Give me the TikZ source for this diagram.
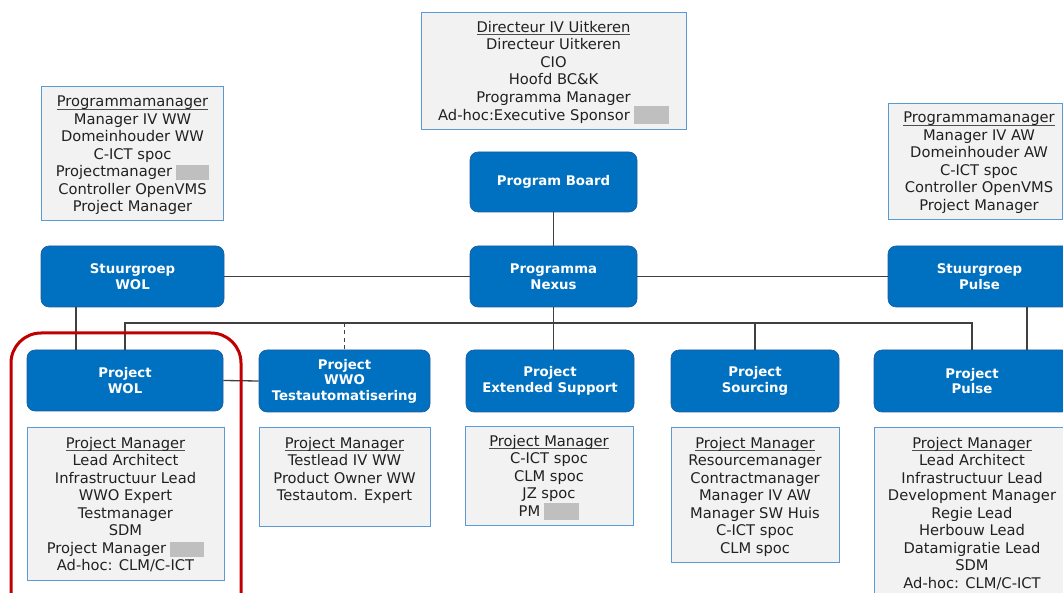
\documentclass[tikz,border=0pt]{standalone}
\usepackage{fontspec}
\setmainfont{DejaVu Sans}
\usetikzlibrary{calc}
\definecolor{mblue}{RGB}{0,112,192}
\definecolor{mblueedge}{RGB}{30,90,160}
\definecolor{infofill}{RGB}{242,242,242}
\definecolor{infoedge}{RGB}{91,155,213}
\definecolor{redact}{RGB}{191,191,191}
\definecolor{linecol}{RGB}{64,64,64}
\definecolor{redcol}{RGB}{192,0,0}
\definecolor{txt}{RGB}{33,33,33}
\newcommand{\redbox}[2]{\hspace{4pt}\raisebox{-3.5pt}{\textcolor{redact}{\rule{#1pt}{#2pt}}}}
\newcommand{\ulined}[1]{\setbox0\hbox{#1}\rlap{\textcolor{txt!80}{\rule[-2.4pt]{\wd0}{0.7pt}}}\box0}
\tikzset{
  bluebox/.style={draw=mblueedge, line width=0.6pt, fill=mblue, rounded corners=8pt,
    text=white, font=\fontsize{13.3}{15.5}\selectfont\bfseries, align=center, inner sep=0pt},
  infobox/.style={draw=infoedge, line width=1.4pt, fill=infofill, inner sep=0pt},
  infotext/.style={text=txt, font=\fontsize{14.7}{17.5}\selectfont, align=center, inner sep=0pt, anchor=north},
  conn/.style={draw=linecol, line width=1.3pt},
  redframe/.style={draw=redcol, line width=3pt, rounded corners=30pt}
}
\begin{document}
\begin{tikzpicture}[x=1pt, y=-1pt]
\useasboundingbox (0,0) rectangle (1063,593);
\clip (0,0) rectangle (1063,593);
% blue boxes
\node[bluebox, minimum width=167pt, minimum height=60pt] (pb) at (553.5,182) {Program Board};
\node[bluebox, minimum width=167pt, minimum height=61pt] (nexus) at (553.5,276.5) {Programma\\Nexus};
\node[bluebox, minimum width=183pt, minimum height=61pt] (sgwol) at (132.5,276.5) {Stuurgroep\\WOL};
\node[bluebox, minimum width=183pt, minimum height=61pt] (sgpulse) at (979.5,276.5) {Stuurgroep\\Pulse};
\node[bluebox, minimum width=196pt, minimum height=61pt] (pwol) at (125,380.5) {Project\\WOL};
\node[bluebox, minimum width=171pt, minimum height=62pt] (pwwo) at (344.5,381) {Project\\WWO\\Testautomatisering};
\node[bluebox, minimum width=168pt, minimum height=62pt] (pes) at (550,381) {Project\\Extended Support};
\node[bluebox, minimum width=168pt, minimum height=62pt] (psrc) at (755,381) {Project\\Sourcing};
\node[bluebox, minimum width=196pt, minimum height=62pt] (ppulse) at (972,381) {Project\\Pulse};
% connectors
\coordinate (bus) at (0,323);
\coordinate (wolx) at (76,0);
\coordinate (pulx) at (1027,0);
\draw[conn] (pb.south) -- (nexus.north);
\draw[conn] (sgwol.east) -- (nexus.west);
\draw[conn] (nexus.east) -- (sgpulse.west);
\draw[conn] (sgwol.south -| wolx) -- (pwol.north -| wolx);
\draw[conn] (pwol.north) -- (pwol.north |- bus) -- (ppulse.north |- bus) -- (ppulse.north);
\draw[conn] (nexus.south) -- (nexus.south |- pes.north);
\draw[conn] (psrc.north |- bus) -- (psrc.north);
\draw[conn, dash pattern=on 4pt off 3.5pt] (pwwo.north |- bus) -- (pwwo.north);
\draw[conn] (sgpulse.south -| pulx) -- (ppulse.north -| pulx);
\draw[conn] (pwol.east) -- (pwwo.west);
% info boxes
\node[infobox, anchor=north west, minimum width=265pt, minimum height=117pt] (itop) at (421,12) {};
\node[infotext] (ttop) at (553.5,21) {\ulined{Directeur IV Uitkeren}\\Directeur Uitkeren\\CIO\\Hoofd BC\&K\\Programma Manager\\Ad-hoc:Executive Sponsor\redbox{35}{18}};
\node[infobox, anchor=north west, minimum width=182pt, minimum height=134pt] (ileft) at (41,86) {};
\node[infotext] (tleft) at (132.5,96) {\ulined{Programmamanager}\\Manager IV WW\\Domeinhouder WW\\C-ICT spoc\\Projectmanager\redbox{33}{15}\\Controller OpenVMS\\Project Manager};
\node[infobox, anchor=north west, minimum width=174pt, minimum height=116pt] (iright) at (888,103) {};
\node[infotext] (tright) at (979,112) {\ulined{Programmamanager}\\Manager IV AW\\Domeinhouder AW\\C-ICT spoc\\Controller OpenVMS\\Project Manager};
\node[infobox, anchor=north west, minimum width=197pt, minimum height=153pt] (iwol) at (27,427) {};
\node[infotext] (twol) at (125.5,437) {\ulined{Project Manager}\\Lead Architect\\Infrastructuur Lead\\WWO Expert\\Testmanager\\SDM\\Project Manager\redbox{34}{15}\\Ad-hoc: CLM/C-ICT};
\node[infobox, anchor=north west, minimum width=171pt, minimum height=99pt] (iwwo) at (259,427) {};
\node[infotext] (twwo) at (344.5,437) {\ulined{Project Manager}\\Testlead IV WW\\Product Owner WW\\Testautom. Expert};
\node[infobox, anchor=north west, minimum width=168pt, minimum height=99pt] (ies) at (465,426) {};
\node[infotext] (tes) at (549,435) {\ulined{Project Manager}\\C-ICT spoc\\CLM spoc\\JZ spoc\\PM\redbox{35}{17}};
\node[infobox, anchor=north west, minimum width=168pt, minimum height=135pt] (isrc) at (671,427) {};
\node[infotext] (tsrc) at (755,437) {\ulined{Project Manager}\\Resourcemanager\\Contractmanager\\Manager IV AW\\Manager SW Huis\\C-ICT spoc\\CLM spoc};
\node[infobox, anchor=north west, minimum width=200pt, minimum height=200pt] (ipulse) at (874,427) {};
\node[infotext] (tpulse) at (972,437) {\ulined{Project Manager}\\Lead Architect\\Infrastructuur Lead\\Development Manager\\Regie Lead\\Herbouw Lead\\Datamigratie Lead\\SDM\\Ad-hoc: CLM/C-ICT};
% highlight frame
\draw[redframe] (11,333) rectangle (241,640);
\end{tikzpicture}
\end{document}
